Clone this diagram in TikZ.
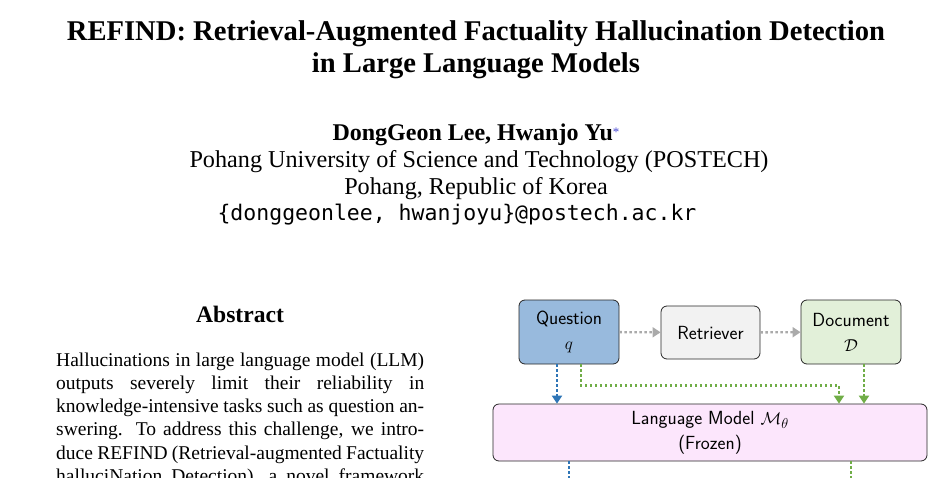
\documentclass[tikz,border=0pt]{standalone}
\usepackage{fontspec}
\setmainfont{Liberation Serif}
\setmonofont{DejaVu Sans Mono}
\usetikzlibrary{arrows.meta}
\definecolor{qfill}{RGB}{152,186,221}
\definecolor{rfill}{RGB}{242,242,242}
\definecolor{dfill}{RGB}{226,240,217}
\definecolor{lmfill}{RGB}{252,230,252}
\definecolor{qline}{RGB}{46,117,182}
\definecolor{dline}{RGB}{112,173,71}
\definecolor{rline}{RGB}{170,170,170}
\definecolor{starcol}{RGB}{70,70,210}
\tikzset{
  box/.style={draw=black!85, line width=0.8pt, rounded corners=6pt, align=center, inner sep=0pt,
    font=\sffamily\fontsize{19}{25}\selectfont},
  flow/.style={line width=2.4pt, dash pattern=on 2.4pt off 2.6pt},
  tip/.style={-{Triangle[width=10pt,length=8pt]}},
  absline/.style={anchor=base west, inner sep=0pt, font=\fontsize{19.5}{23}\selectfont},
}
\begin{document}
\begin{tikzpicture}[x=1pt,y=-1pt]
    \clip (0,0) rectangle (951,477);
    % title and authors
    \node[anchor=base, font=\bfseries\fontsize{28.6}{32}\selectfont] (title1) at (476,40.5) {REFIND: Retrieval-Augmented Factuality Hallucination Detection};
    \node[anchor=base, font=\bfseries\fontsize{28.6}{32}\selectfont] (title2) at (476,72.5) {in Large Language Models};
    \node[anchor=base, font=\fontsize{24}{27}\selectfont] (authors) at (476,140) {\textbf{DongGeon Lee, Hwanjo Yu}\raisebox{4pt}{\fontsize{13}{13}\selectfont\color{starcol}*}};
    \node[anchor=base, font=\fontsize{24.2}{27}\selectfont] (affil) at (479,167) {Pohang University of Science and Technology (POSTECH)};
    \node[anchor=base, font=\fontsize{24.2}{27}\selectfont] (city) at (476,194) {Pohang, Republic of Korea};
    \node[anchor=base, font=\ttfamily\fontsize{21.5}{27}\selectfont] (mail) at (457,220) {\{donggeonlee, hwanjoyu\}@postech.ac.kr};
    % abstract
    \node[anchor=base, font=\bfseries\fontsize{23.6}{27}\selectfont] (abstitle) at (240,322) {Abstract};
    \node[absline] (abs1) at (56,366) {\makebox[368pt][s]{Hallucinations in large language model (LLM)}};
    \node[absline] (abs2) at (56,389.3) {\makebox[368pt][s]{outputs severely limit their reliability in}};
    \node[absline] (abs3) at (56,412.6) {\makebox[368pt][s]{knowledge-intensive tasks such as question an-}};
    \node[absline] (abs4) at (56,435.9) {\makebox[368pt][s]{swering. To address this challenge, we intro-}};
    \node[absline] (abs5) at (56,459.2) {\makebox[368pt][s]{duce REFIND (Retrieval-augmented Factuality}};
    \node[absline] (abs6) at (56,482.5) {\makebox[368pt][s]{halluciNation Detection), a novel framework}};
    % figure
    \node[box, fill=qfill, minimum width=100pt, minimum height=64pt] (q) at (569,332) {Question\\$q$};
    \node[box, fill=rfill, minimum width=99pt, minimum height=53pt] (ret) at (710.5,332.5) {Retriever};
    \node[box, fill=dfill, minimum width=100pt, minimum height=64pt] (doc) at (851,332) {Document\\$\mathcal{D}$};
    \node[box, fill=lmfill, minimum width=434pt, minimum height=57pt] (lm) at (710,432.5) {Language Model $\mathcal{M}_\theta$\\(Frozen)};
    \draw[flow, tip, rline] (q) -- (ret);
    \draw[flow, tip, rline] (ret) -- (doc);
    \draw[flow, tip, qline] ([xshift=-12pt]q.south) -- ([xshift=-12pt]q.south |- lm.north);
    \draw[flow, tip, dline] ([xshift=12pt]q.south) -- ++(0,21) -| ([xshift=-12pt]doc.south |- lm.north);
    \draw[flow, tip, dline] ([xshift=13pt]doc.south) -- ([xshift=13pt]doc.south |- lm.north);
    \draw[flow, qline] (lm.south -| q.south) -- ++(0,30);
    \draw[flow, dline] (lm.south -| doc.south) -- ++(0,30);
\end{tikzpicture}
\end{document}
